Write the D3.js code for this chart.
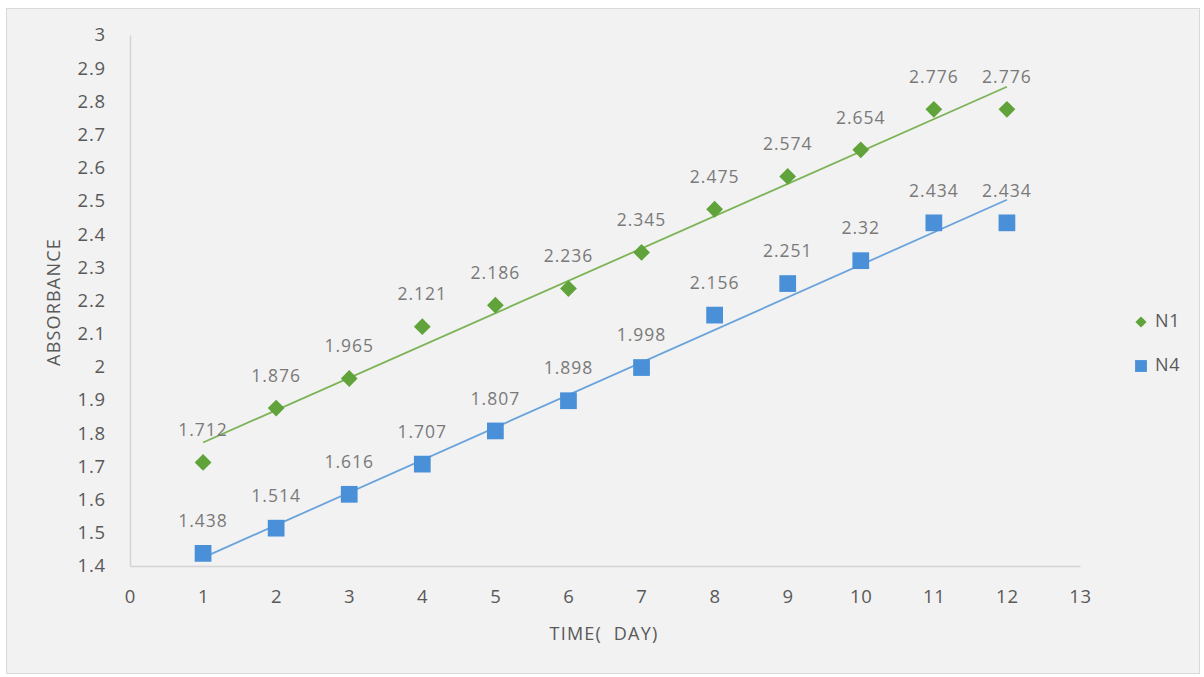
<!DOCTYPE html>
<html>
<head>
<meta charset="utf-8">
<script src="https://cdn.jsdelivr.net/npm/d3@7"></script>
<style>
  html, body { margin: 0; padding: 0; background: #ffffff; }
  svg { display: block; font-family: "Open Sans", "Noto Sans", sans-serif; }
</style>
</head>
<body>
<svg id="chart" width="1204" height="677"></svg>
<script>
// Absorbance readings per day for two samples
const days = [1, 2, 3, 4, 5, 6, 7, 8, 9, 10, 11, 12];
const n1Values = [1.712, 1.876, 1.965, 2.121, 2.186, 2.236, 2.345, 2.475, 2.574, 2.654, 2.776, 2.776];
const n4Values = [1.438, 1.514, 1.616, 1.707, 1.807, 1.898, 1.998, 2.156, 2.251, 2.32, 2.434, 2.434];
const seriesNames = ["N1", "N4"];
const xTicks = [0, 1, 2, 3, 4, 5, 6, 7, 8, 9, 10, 11, 12, 13];
const yTicks = [1.4, 1.5, 1.6, 1.7, 1.8, 1.9, 2, 2.1, 2.2, 2.3, 2.4, 2.5, 2.6, 2.7, 2.8, 2.9, 3];

const colors = { N1: "#5fa33a", N4: "#4a90d9" };
const lineColors = { N1: "#7cb356", N4: "#6aa3dc" };

const svg = d3.select("#chart");

// chart area frame
svg.append("rect")
  .attr("x", 6.5).attr("y", 8.5)
  .attr("width", 1193).attr("height", 665)
  .attr("fill", "#f2f2f2")
  .attr("stroke", "#d9d9d9");

const x = d3.scaleLinear().domain([0, 13]).range([130, 1080]);
const y = d3.scaleLinear().domain([1.4, 3]).range([566, 35]);

// axes
const xAxis = d3.axisBottom(x).tickValues(xTicks).tickSize(0).tickPadding(24).tickFormat(d3.format("d"));
const yAxis = d3.axisLeft(y).tickValues(yTicks).tickSize(0).tickPadding(24).tickFormat(d => d3.format("~g")(d));

const gx = svg.append("g").attr("transform", `translate(0,${y(1.4)})`).call(xAxis);
const gy = svg.append("g").attr("transform", `translate(${x(0)},0)`).call(yAxis);

[gx, gy].forEach(g => {
  g.select(".domain").attr("stroke", "#d4d4d4").attr("stroke-width", 1.5);
  g.selectAll(".tick text")
    .attr("fill", "#595959")
    .attr("font-size", 18.5)
    .attr("letter-spacing", 0.8)
    .attr("font-family", "\"Open Sans\", sans-serif");
});
gx.selectAll(".tick text").attr("dy", "0.35em").attr("y", 31);

// axis titles
svg.append("text")
  .attr("x", 604).attr("y", 635)
  .attr("text-anchor", "middle").attr("dominant-baseline", "middle")
  .attr("fill", "#595959").attr("font-size", 18).attr("letter-spacing", 1.2)
  .text("TIME(  DAY)")
  .attr("xml:space", "preserve").style("white-space", "pre");

svg.append("text")
  .attr("transform", "translate(55,302) rotate(-90)")
  .attr("text-anchor", "middle").attr("dominant-baseline", "middle")
  .attr("fill", "#595959").attr("font-size", 18).attr("letter-spacing", 1.2)
  .text("ABSORBANCE");

const series = [
  { name: "N1", values: n1Values, shape: d3.symbolDiamond2, size: 180 },
  { name: "N4", values: n4Values, shape: d3.symbolSquare, size: 280 }
];

// least-squares trend line through each series
function linearFit(xs, ys) {
  const mx = d3.mean(xs), my = d3.mean(ys);
  let sxy = 0, sxx = 0;
  xs.forEach((xi, i) => { sxy += (xi - mx) * (ys[i] - my); sxx += (xi - mx) ** 2; });
  const slope = sxy / sxx;
  return { slope, intercept: my - slope * mx };
}

series.forEach(s => {
  const fit = linearFit(days, s.values);
  const x0 = d3.min(days), x1 = d3.max(days);
  svg.append("line")
    .attr("x1", x(x0)).attr("y1", y(fit.intercept + fit.slope * x0))
    .attr("x2", x(x1)).attr("y2", y(fit.intercept + fit.slope * x1))
    .attr("stroke", lineColors[s.name]).attr("stroke-width", 1.8);
});

series.forEach(s => {
  const pts = days.map((d, i) => ({ d, v: s.values[i] }));
  svg.append("g").selectAll("path")
    .data(pts).join("path")
    .attr("transform", p => `translate(${x(p.d)},${y(p.v)})`)
    .attr("d", d3.symbol().type(s.shape).size(s.size))
    .attr("fill", colors[s.name]);

  svg.append("g").selectAll("text")
    .data(pts).join("text")
    .attr("x", p => x(p.d))
    .attr("y", p => y(p.v) - 31)
    .attr("text-anchor", "middle").attr("dominant-baseline", "middle")
    .attr("fill", "#7a7a7a").attr("font-size", 17.5).attr("letter-spacing", 1)
    .text(p => String(p.v));
});

// legend
const legend = svg.append("g");
series.forEach((s, i) => {
  const ly = 322 + i * 44;
  legend.append("path")
    .attr("transform", `translate(1141,${ly})`)
    .attr("d", d3.symbol().type(s.shape).size(s.name === "N1" ? 80 : 140))
    .attr("fill", colors[s.name]);
  legend.append("text")
    .attr("x", 1155).attr("y", ly)
    .attr("dominant-baseline", "middle")
    .attr("fill", "#595959").attr("font-size", 18).attr("letter-spacing", 0.8)
    .text(s.name);
});
</script>
</body>
</html>
